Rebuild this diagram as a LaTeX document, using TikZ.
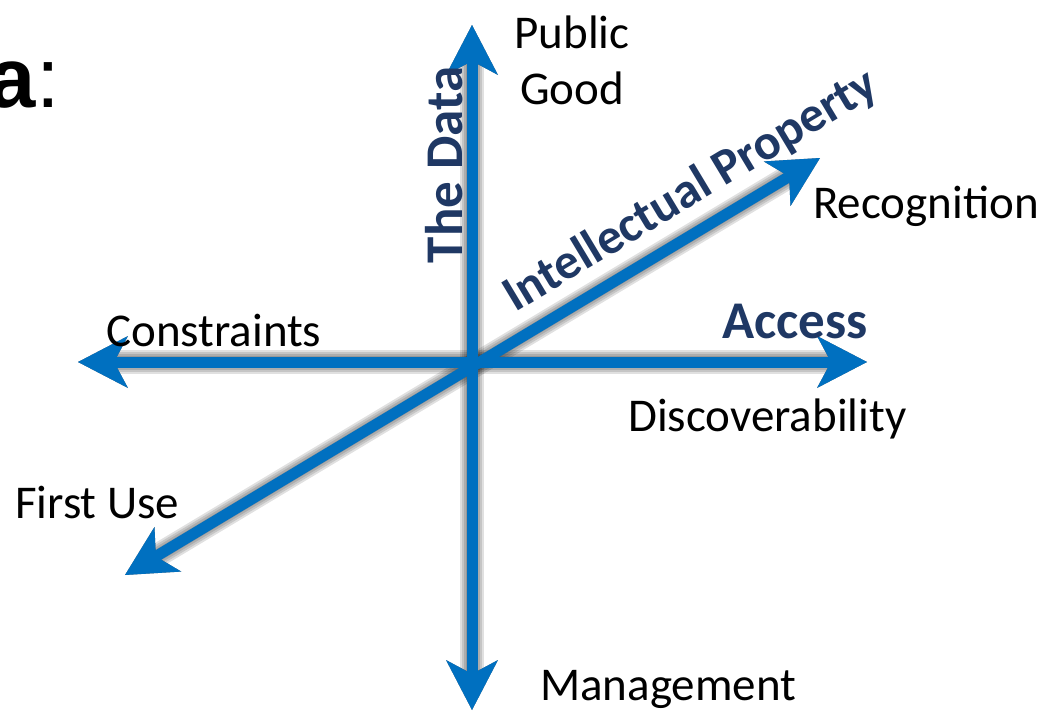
\documentclass[tikz,border=0pt]{standalone}
\usepackage{fontspec}
\setmainfont{Carlito}
\newfontfamily\arialfont{Liberation Sans}
\usetikzlibrary{arrows.meta}
\definecolor{axisblue}{HTML}{0070C0}
\definecolor{navy}{HTML}{1F3864}
\tikzset{
  axis/.style={draw=axisblue, line width=11pt,
    {Stealth[length=50pt,width=52pt,inset=14pt,line width=0pt]}-{Stealth[length=50pt,width=52pt,inset=14pt,line width=0pt]}},
  shadowlayer/.style={draw=black, opacity=0.12, line width=#1,
    {Stealth[length=50pt,width=52pt,inset=14pt,line width=0pt]}-{Stealth[length=50pt,width=52pt,inset=14pt,line width=0pt]}},
  lbl/.style={font=\fontsize{47}{52}\selectfont, text=black, inner sep=0pt},
  blbl/.style={font=\fontsize{53}{58}\selectfont\bfseries, text=navy, inner sep=0pt}
}
\begin{document}
\begin{tikzpicture}[x=1pt,y=-1pt]
\useasboundingbox (0,0) rectangle (1042,712);
\coordinate (top) at (472,25);
\coordinate (bot) at (472,710);
\coordinate (lft) at (78,362);
\coordinate (rgt) at (867,362);
\coordinate (ll) at (125,575);
\coordinate (ur) at (820,158);
% shadows
\begin{scope}[shift={(8,8)}]
\foreach \w in {24pt,20pt,16pt,12pt,9pt} {
  \draw[shadowlayer=\w] (top) -- (bot);
  \draw[shadowlayer=\w] (lft) -- (rgt);
  \draw[shadowlayer=\w] (ll) -- (ur);
}
\end{scope}
% axes
\draw[axis] (lft) -- (rgt);
\draw[axis] (ll) -- (ur);
\draw[axis] (bot) -- (top);
% labels
\node[anchor=base west, inner sep=0pt, font=\arialfont\fontsize{85}{90}\selectfont] (title) at (-12,107) {\textbf{a}:};
\node[lbl, anchor=base] (pub) at (572,48) {Public};
\node[lbl, anchor=base] (good) at (572,104) {Good};
\node[lbl, anchor=base west] (rec) at (813,218) {Recognition};
\node[lbl, anchor=base west] (con) at (106,346) {Constraints};
\node[lbl, anchor=base west] (disc) at (628,431) {Discoverability};
\node[lbl, anchor=base west] (first) at (15,518) {First Use};
\node[lbl, anchor=base west] (mgmt) at (540,700) {Management};
\node[blbl, anchor=base west] (acc) at (722,338) {Access};
\node[blbl, anchor=base, rotate=90] (data) at (462,165) {The Data};
\node[blbl, font=\fontsize{50}{55}\selectfont\bfseries, anchor=base west, rotate=31] (ip) at (515,313) {Intellectual Property};
\end{tikzpicture}
\end{document}
